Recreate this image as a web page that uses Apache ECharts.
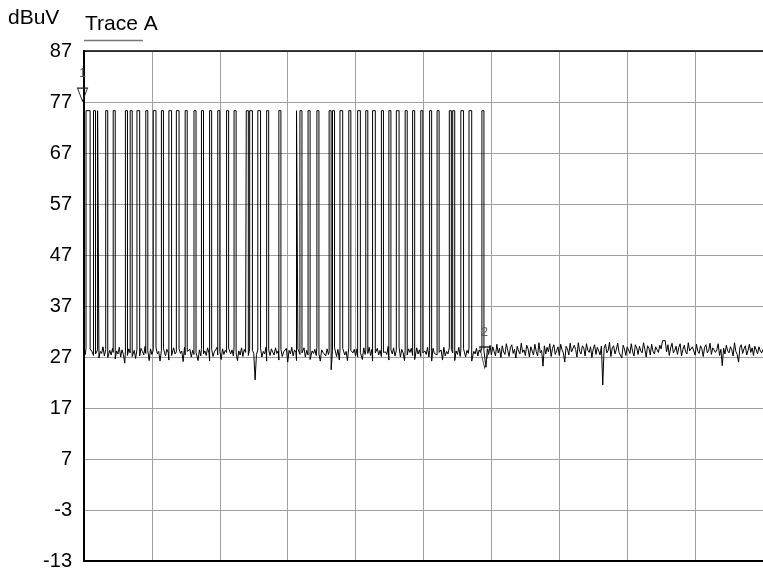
<!DOCTYPE html>
<html>
<head>
<meta charset="utf-8">
<script src="https://cdn.jsdelivr.net/npm/echarts@6/dist/echarts.min.js"></script>
<style>
  html, body { margin: 0; padding: 0; background: #fff; }
  #chart { width: 763px; height: 571px; }
</style>
</head>
<body>
<div id="chart"></div>
<script>
// y scale (dBuV) and tick labels
var yMin = -13
var yMax = 87
var yStep = 10
var yTicks = [-13, -3, 7, 17, 27, 37, 47, 57, 67, 77, 87]

// sweep points across the screen (10 divisions)
var sweepPoints = 1000
var sweepStep = 100

// pulse level and pulse start/end (sweep points)
var pulseTop = 75.3
var pulses = [
  [3, 9], [14, 17], [20, 22], [32, 35], [43, 46], [61, 64], [68, 71], [78, 82],
  [91, 94], [102, 106], [114, 117], [125, 129], [136, 140], [149, 152], [162, 165],
  [173, 176], [185, 188], [197, 200], [210, 213], [221, 224], [239, 242], [244, 248],
  [256, 260], [269, 272], [287, 290], [313, 315], [318, 321], [330, 333], [343, 346],
  [361, 364], [366, 369], [377, 381], [390, 393], [403, 407], [415, 418], [425, 429],
  [438, 441], [449, 452], [460, 464], [473, 476], [484, 487], [496, 499], [509, 512],
  [520, 523], [538, 541], [543, 546], [555, 559], [567, 571], [586, 589]
]

// noise floor, one reading every 2 sweep points
var noiseStep = 2
var noise = [
  28.2, 27.5, 28.8, 27.9, 27.1, 28.6, 28.0, 27.3, 28.9, 27.6,
  28.4, 26.8, 28.1, 27.7, 29.0, 27.2, 28.5, 27.8, 26.9, 28.3,
  27.4, 28.7, 27.9, 26.6, 28.2, 27.6, 28.9, 27.0, 28.4, 27.5,
  25.8, 28.0, 27.3, 28.6, 27.8, 28.8, 27.1, 28.3, 26.7, 28.5,
  27.9, 27.2, 28.7, 28.1, 27.4, 29.1, 27.7, 28.2, 26.3, 28.6,
  27.5, 28.4, 27.0, 28.9, 27.6, 28.1, 26.2, 28.3, 27.8, 28.7,
  27.2, 28.5, 27.9, 26.4, 28.4, 27.3, 28.8, 27.6, 28.0, 27.1,
  28.6, 27.7, 28.2, 26.1, 28.9, 27.4, 28.1, 27.8, 28.5, 27.0,
  28.3, 27.5, 29.0, 27.9, 26.3, 28.4, 27.2, 28.7, 27.6, 28.2,
  27.3, 28.8, 27.8, 26.2, 28.5, 27.1, 28.0, 27.7, 28.9, 27.4,
  28.1, 26.5, 28.6, 27.5, 28.3, 27.9, 27.0, 28.7, 27.6, 28.4,
  27.2, 28.9, 27.8, 26.3, 28.2, 27.4, 28.8, 27.1, 28.5, 27.9,
  28.0, 27.3, 28.6, 26.9, 28.3, 27.7, 22.5, 27.5, 28.4, 27.8,
  28.7, 27.0, 28.1, 27.6, 28.9, 26.2, 28.4, 27.3, 28.6, 27.9,
  27.4, 28.8, 27.7, 28.2, 26.4, 28.5, 27.1, 28.0, 27.8, 28.7,
  26.0, 28.3, 27.6, 28.9, 27.2, 28.4, 27.9, 26.3, 28.6, 27.5,
  28.1, 27.8, 28.8, 27.0, 28.3, 27.4, 28.7, 26.5, 28.2, 27.7,
  28.5, 27.3, 28.9, 27.6, 26.2, 28.4, 27.9, 28.1, 27.2, 28.6,
  27.5, 28.0, 24.5, 28.3, 27.7, 28.8, 27.1, 28.5, 26.4, 28.2,
  27.9, 28.7, 27.4, 28.1, 26.3, 28.9, 27.6, 28.3, 27.8, 28.5,
  27.2, 28.6, 27.0, 28.4, 27.9, 26.5, 28.8, 27.5, 28.2, 27.7,
  28.9, 27.3, 28.5, 26.2, 28.1, 27.8, 28.7, 27.4, 28.3, 27.1,
  28.6, 27.9, 28.0, 27.5, 29.1, 26.4, 28.4, 27.6, 28.8, 27.2,
  28.3, 27.7, 28.9, 27.0, 28.5, 27.8, 26.3, 28.2, 27.4, 28.6,
  27.9, 28.7, 27.3, 28.1, 26.5, 28.8, 27.6, 28.4, 27.1, 28.5,
  27.8, 28.2, 27.5, 28.9, 27.0, 28.3, 26.2, 28.7, 27.7, 28.0,
  27.4, 28.6, 27.9, 28.4, 26.4, 28.9, 27.2, 28.1, 27.6, 28.8,
  27.3, 28.5, 27.8, 26.3, 28.2, 27.5, 28.9, 27.1, 28.4, 27.9,
  28.6, 27.0, 28.3, 27.7, 28.8, 27.4, 26.2, 28.1, 27.6, 28.7,
  27.2, 28.4, 27.9, 28.8, 26.9, 28.2, 25.0, 28.6, 27.5, 29.3,
  27.4, 29.0, 28.1, 27.2, 29.5, 27.8, 28.7, 26.9, 29.2, 28.0,
  27.5, 29.6, 28.3, 27.1, 28.9, 29.4, 27.7, 28.5, 26.8, 29.1,
  28.2, 27.6, 29.7, 27.9, 28.4, 27.3, 29.3, 28.6, 27.0, 29.0,
  28.8, 27.4, 29.5, 28.1, 27.2, 29.8, 27.8, 28.3, 25.2, 29.2,
  27.6, 28.9, 28.0, 29.6, 27.1, 28.7, 29.4, 27.5, 28.2, 29.0,
  27.3, 29.5, 28.4, 27.8, 26.0, 29.1, 28.6, 27.4, 29.7, 28.0,
  27.7, 29.3, 28.5, 27.0, 29.8, 28.1, 27.6, 29.2, 28.8, 27.2,
  29.6, 28.3, 27.9, 29.0, 26.9, 28.6, 29.4, 27.5, 28.9, 28.2,
  27.4, 29.1, 21.5, 28.7, 29.5, 27.8, 28.3, 29.9, 27.1, 28.8,
  29.2, 27.6, 28.5, 29.7, 27.9, 28.1, 26.8, 29.3, 28.6, 27.3,
  29.0, 28.4, 27.7, 29.6, 28.0, 27.2, 29.4, 28.8, 27.5, 29.1,
  28.2, 27.8, 29.8, 28.5, 27.0, 29.2, 28.7, 27.4, 29.5, 28.1,
  27.6, 29.0, 28.4, 27.9, 29.3, 28.6, 30.2, 30.2, 30.2, 28.0,
  29.4, 27.3, 28.8, 29.7, 27.8, 28.3, 29.1, 27.5, 28.9, 29.6,
  27.2, 28.5, 29.3, 28.0, 27.6, 29.8, 28.2, 27.9, 29.0, 28.7,
  27.4, 29.5, 28.1, 27.7, 29.2, 28.6, 27.1, 28.9, 29.4, 27.8,
  28.3, 29.7, 27.5, 28.8, 29.1, 27.9, 28.4, 29.6, 27.3, 28.5,
  25.3, 28.7, 27.6, 29.3, 28.2, 27.8, 29.0, 28.4, 27.2, 29.8,
  28.1, 27.5, 26.0, 28.9, 29.4, 27.7, 28.6, 29.2, 27.4, 28.3,
  29.5, 27.9, 28.8, 27.3, 29.1, 28.4, 27.6, 29.0, 28.2, 27.8,
  28.5
]

// markers: sweep point and level
var markerNames = ['1', '2']
var markerX = [0, 590]
var markerY = [75.3, 24.84]

var fontFamily = "'Liberation Sans', Arial, sans-serif"

function buildTrace() {
  var pts = []
  for (var i = 0; i < noise.length; i++) {
    var x = i * noiseStep
    var inside = pulses.some(function (p) { return x >= p[0] && x <= p[1] })
    if (!inside) pts.push([x, noise[i]])
  }
  pulses.forEach(function (p) {
    var b0 = noise[Math.round(p[0] / noiseStep)]
    var b1 = noise[Math.round(p[1] / noiseStep)]
    pts.push([p[0], b0], [p[0], pulseTop], [p[1], pulseTop], [p[1], b1])
  })
  var indexed = pts.map(function (d, k) { return { d: d, k: k } })
  indexed.sort(function (a, b) { return a.d[0] - b.d[0] || a.k - b.k })
  // y axis is shifted so that ticks start at 0
  return indexed.map(function (o) { return [o.d[0], o.d[1] - yMin] })
}

var chart = echarts.init(document.getElementById('chart'))
var option = {
  animation: false,
  backgroundColor: '#fff',
  grid: {
    left: 84,
    top: 51,
    width: 680,
    height: 510
  },
  graphic: [
    {
      type: 'text',
      left: 8,
      top: 8,
      style: { text: 'dBuV', fill: '#000', font: '21px ' + fontFamily }
    },
    {
      type: 'text',
      left: 85,
      top: 14,
      style: { text: 'Trace A', fill: '#000', font: '21px ' + fontFamily }
    },
    {
      type: 'line',
      shape: { x1: 84, y1: 40.5, x2: 143, y2: 40.5 },
      style: { stroke: '#777', lineWidth: 1.5 }
    }
  ],
  xAxis: [
    {
      type: 'value',
      min: 0,
      max: sweepPoints,
      interval: sweepStep,
      axisLabel: { show: false },
      axisTick: { show: false },
      axisLine: { show: true, lineStyle: { color: '#000', width: 2 } },
      splitLine: { show: true, lineStyle: { color: '#a0a0a0', width: 1 } }
    },
    {
      type: 'value',
      position: 'top',
      min: 0,
      max: sweepPoints,
      axisLabel: { show: false },
      axisTick: { show: false },
      axisLine: { show: true, lineStyle: { color: '#000', width: 1.5 } },
      splitLine: { show: false }
    }
  ],
  yAxis: {
    type: 'value',
    min: 0,
    max: yMax - yMin,
    interval: yStep,
    axisTick: { show: false },
    axisLine: { show: true, lineStyle: { color: '#000', width: 2 } },
    axisLabel: {
      color: '#000',
      fontSize: 20,
      fontFamily: fontFamily,
      margin: 12,
      formatter: function (v) { return String(yTicks[Math.round(v / yStep)]) }
    },
    splitLine: { show: true, lineStyle: { color: '#a0a0a0', width: 1 } }
  },
  series: [
    {
      type: 'line',
      xAxisIndex: 0,
      data: buildTrace(),
      showSymbol: false,
      symbol: 'none',
      lineStyle: { color: '#000', width: 1 },
      z: 3,
      markPoint: {
        symbol: 'triangle',
        symbolRotate: 180,
        label: {
          show: true,
          position: 'top',
          distance: 8,
          color: '#555',
          fontSize: 12,
          fontFamily: fontFamily,
          formatter: '{b}'
        },
        itemStyle: { color: 'rgba(0,0,0,0)', borderColor: '#222', borderWidth: 1 },
        data: [
          {
            name: markerNames[0],
            coord: [markerX[0], markerY[0] - yMin],
            symbolSize: [10, 13],
            symbolOffset: [-1.5, -16]
          },
          {
            name: markerNames[1],
            coord: [markerX[1], markerY[1] - yMin],
            symbolSize: [10, 21],
            symbolOffset: [0, -10.5]
          }
        ]
      }
    }
  ]
}
chart.setOption(option)
</script>
</body>
</html>
